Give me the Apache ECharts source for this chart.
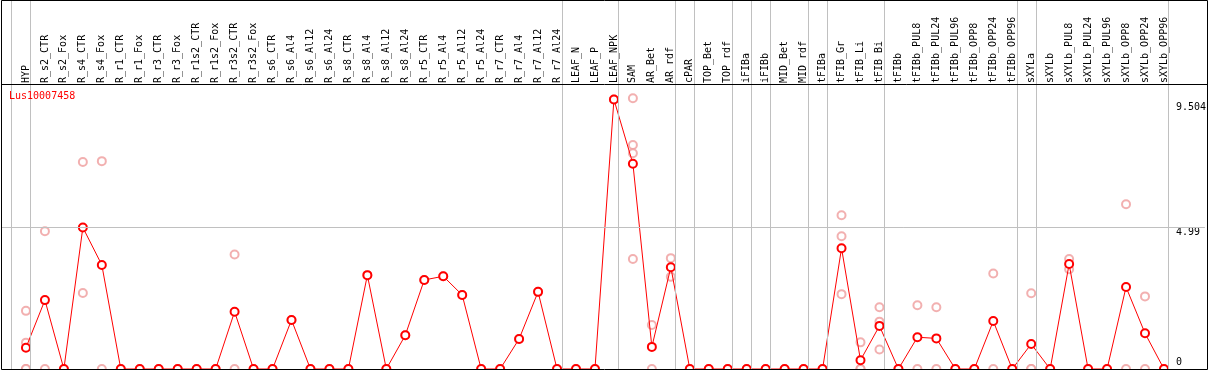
<!DOCTYPE html>
<html>
<head>
<meta charset="utf-8">
<script src="https://cdn.jsdelivr.net/npm/echarts@6/dist/echarts.min.js"></script>
<style>html,body{margin:0;padding:0;background:#fff}#c{width:1209px;height:370px}</style>
</head>
<body>
<div id="c"></div>
<script>
const geneName = 'Lus10007458';
const categories = ['HYP','R_s2_CTR','R_s2_Fox','R_s4_CTR','R_s4_Fox','R_r1_CTR','R_r1_Fox','R_r3_CTR','R_r3_Fox','R_r1s2_CTR','R_r1s2_Fox','R_r3s2_CTR','R_r3s2_Fox','R_s6_CTR','R_s6_Al4','R_s6_Al12','R_s6_Al24','R_s8_CTR','R_s8_Al4','R_s8_Al12','R_s8_Al24','R_r5_CTR','R_r5_Al4','R_r5_Al12','R_r5_Al24','R_r7_CTR','R_r7_Al4','R_r7_Al12','R_r7_Al24','LEAF_N','LEAF_P','LEAF_NPK','SAM','AR_Bet','AR_rdf','cPAR','TOP_Bet','TOP_rdf','iFIBa','iFIBb','MID_Bet','MID_rdf','tFIBa','tFIB_Gr','tFIB_Li','tFIB_Bi','tFIBb','tFIBb_PUL8','tFIBb_PUL24','tFIBb_PUL96','tFIBb_OPP8','tFIBb_OPP24','tFIBb_OPP96','sXYLa','sXYLb','sXYLb_PUL8','sXYLb_PUL24','sXYLb_PUL96','sXYLb_OPP8','sXYLb_OPP24','sXYLb_OPP96'];
const meanValues = [0.75,2.43,0,4.99,3.67,0,0,0,0,0,0,2.02,0,0,1.73,0,0,0,3.31,0,1.19,3.14,3.27,2.61,0,0,1.06,2.72,0,0,0,9.504,7.24,0.78,3.59,0,0,0,0,0,0,0,0,4.26,0.31,1.52,0,1.12,1.08,0,0,1.69,0,0.88,0,3.70,0,0,2.89,1.26,0];
const replicateValues = [
  [2.05,0.93,0,0],[4.86,0],[0],[7.30,2.68],[7.33,0],[0],[0],[0],[0],[0],[0],[4.04,0],[0],[0],[1.73],[0],[0],[0],[3.31],[0],[1.19],[3.14],[3.27],[2.61],[0],[0],[1.06],[2.72],[0],[0],[0],[9.504],
  [9.55,7.90,7.61,3.88],[1.55,0],[3.91,3.25],[0],[0],[0],[0],[0],[0],[0],[0],
  [5.42,4.68,2.64],[0.94,0,0],[2.18,1.67,0.69],[0],[2.25,0],[2.18,0],[0],[0],[3.37,0],[0],
  [2.67,0,0],[0],[3.88,3.52],[0],[0],[5.81,0],[2.56,0],[0]
];
const yTickValues = [0, 4.99, 9.504];
const yTickLabels = ['0', '4.99', '9.504'];
const gridLineValues = [4.99];
const groupEnds = ['HYP','R_r7_Al24','LEAF_NPK','AR_rdf','cPAR','TOP_rdf','iFIBa','iFIBb','MID_rdf','tFIBa','tFIB_Bi','tFIBb_OPP96','sXYLa','sXYLb_OPP96'];

const FONT = 'DejaVu Sans Mono';
const sepPositions = [-0.8].concat(groupEnds.map(n => categories.indexOf(n) + 0.25));
const meanData = meanValues.map((v, i) => [i, v]);
const repData = [];
replicateValues.forEach((arr, i) => arr.forEach(v => repData.push([i, v])));

const chart = echarts.init(document.getElementById('c'), null, {renderer: 'canvas'});
chart.setOption({
  animation: false,
  backgroundColor: '#fff',
  textStyle: {fontFamily: FONT},
  title: {
    text: geneName, left: 9, top: 91, padding: 0,
    textStyle: {color: '#ff0000', fontSize: 10, fontWeight: 'normal', fontFamily: FONT}
  },
  grid: {left: 1, right: 2, top: 0, height: 369},
  xAxis: {
    type: 'value', position: 'top', offset: -85, min: -1.31579, max: 62.15789,
    axisLine: {show: false}, axisTick: {show: false}, splitLine: {show: false},
    axisLabel: {
      customValues: categories.map((_, i) => i),
      formatter: v => categories[Math.round(v)],
      rotate: 90, margin: 2, fontSize: 10, color: '#000', fontFamily: FONT,
      padding: [0, 0, 3, 0]
    }
  },
  yAxis: {
    type: 'value', position: 'right', min: 0, max: 13.013,
    axisLine: {show: false}, axisTick: {show: false}, splitLine: {show: false},
    axisLabel: {
      customValues: yTickValues, inside: true, margin: 29, align: 'left',
      verticalAlign: 'middle', fontSize: 10, color: '#000', fontFamily: FONT,
      formatter: v => {
        const k = yTickValues.indexOf(v);
        const s = ['b', 'm', 't'][k];
        return '{' + s + '|' + yTickLabels[k] + '}';
      },
      rich: {
        b: {fontSize: 10, fontFamily: FONT, color: '#000', padding: [0, 0, 13, 0]},
        m: {fontSize: 10, fontFamily: FONT, color: '#000', padding: [9, 0, 0, 0]},
        t: {fontSize: 10, fontFamily: FONT, color: '#000', padding: [15, 0, 0, 0]}
      }
    }
  },
  series: [
    {
      type: 'line', data: [], silent: true, z: 1,
      markLine: {
        silent: true, symbol: ['none', 'none'], label: {show: false}, animation: false,
        lineStyle: {color: '#c0c0c0', width: 1, type: 'solid'},
        data: sepPositions.map(x => ({xAxis: x})).concat(gridLineValues.map(y => ({yAxis: y})))
      }
    },
    {
      type: 'scatter', data: repData, z: 2, symbol: 'emptyCircle', symbolSize: 8,
      itemStyle: {color: '#ef9c9c', borderColor: '#ef9c9c', borderWidth: 1.2}
    },
    {
      type: 'line', data: meanData, z: 3, symbol: 'emptyCircle', symbolSize: 8,
      lineStyle: {color: '#ff0000', width: 1},
      itemStyle: {color: '#ff0000', borderColor: '#ff0000', borderWidth: 1.2}
    }
  ],
  graphic: [
    {type: 'rect', silent: true, z: 100, shape: {x: 1.5, y: 0.5, width: 1206, height: 369},
     style: {fill: null, stroke: '#000', lineWidth: 1}},
    {type: 'line', silent: true, z: 100, shape: {x1: 1, y1: 84.5, x2: 1208, y2: 84.5},
     style: {stroke: '#000', lineWidth: 1}}
  ]
});
</script>
</body>
</html>
